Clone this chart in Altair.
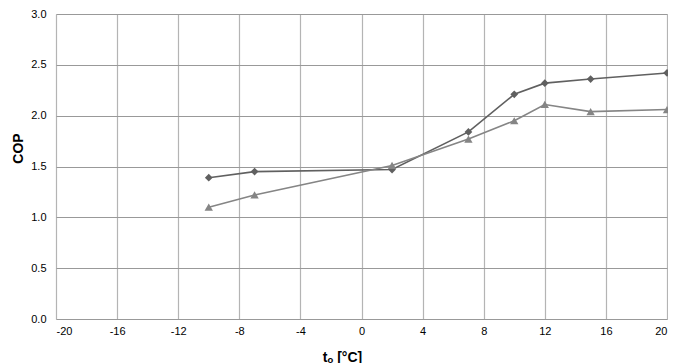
import altair as alt
import pandas as pd

temps = [-10, -7, 2, 7, 10, 12, 15, 20]
cop_a = [1.39, 1.45, 1.47, 1.84, 2.21, 2.32, 2.36, 2.42]
cop_b = [1.10, 1.22, 1.51, 1.77, 1.95, 2.11, 2.04, 2.06]
x_ticks = [-20, -16, -12, -8, -4, 0, 4, 8, 12, 16, 20]
y_ticks = [0.0, 0.5, 1.0, 1.5, 2.0, 2.5, 3.0]

df = pd.DataFrame({
    "t": temps * 2,
    "cop": cop_a + cop_b,
    "series": ["A"] * len(temps) + ["B"] * len(temps),
})

x_enc = alt.X("t:Q", scale=alt.Scale(domain=[-20, 20], nice=False),
              axis=alt.Axis(values=x_ticks, title="tₒ [°C]", titleFontWeight="bold",
                            titleFontSize=14, titleFont="Liberation Sans",
                            titleX=286, titleY=42, titleBaseline="alphabetic",
                            labelExpr="replace(datum.label, '−', '-')",
                            labelFont="Liberation Sans", labelFontSize=11, labelColor="#000",
                            titleColor="#000", ticks=False, labelPadding=6,
                            domain=False, gridColor="#b4b4b4", gridWidth=1.2))
y_enc = alt.Y("cop:Q", scale=alt.Scale(domain=[0, 3], nice=False),
              axis=alt.Axis(values=y_ticks, format=".1f", title="COP", titleFontWeight="bold",
                            titleFontSize=14, titleFont="Liberation Sans",
                            titleX=-34, titleY=134, titleAngle=270, titleBaseline="alphabetic",
                            labelFont="Liberation Sans", labelFontSize=11, labelColor="#000",
                            titleColor="#000", ticks=False, labelPadding=10,
                            domain=False, gridColor="#999999", gridWidth=1.2))

color = alt.Color("series:N", scale=alt.Scale(domain=["A", "B"], range=["#606060", "#858585"]), legend=None)
shape = alt.Shape("series:N", scale=alt.Scale(domain=["A", "B"], range=["diamond", "triangle-up"]), legend=None)
size = alt.Size("series:N", scale=alt.Scale(domain=["A", "B"], range=[60, 70]), legend=None)

lines = alt.Chart(df).mark_line(strokeWidth=1.6).encode(x=x_enc, y=y_enc, color=color, detail="series:N")
pts = alt.Chart(df).mark_point(filled=True, opacity=1).encode(x="t:Q", y="cop:Q", color=color, shape=shape, size=size)

chart = (lines + pts).properties(
    width=611, height=305,
    autosize=alt.AutoSizeParams(type="none"),
    padding={"left": 48, "top": 6, "right": 1, "bottom": 44},
).configure_view(stroke="#a0a0a0", strokeWidth=1.5).configure(background="white")

chart.save("out.html", embed_options={"renderer": "svg", "actions": False})
